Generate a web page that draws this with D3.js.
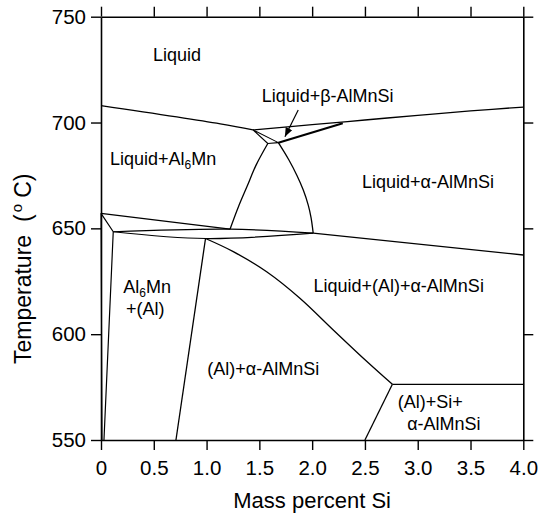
<!DOCTYPE html>
<html>
<head>
<meta charset="utf-8">
<script src="https://cdn.jsdelivr.net/npm/d3@7"></script>
<style>
  html, body { margin: 0; padding: 0; background: #fff; }
  svg { display: block; font-family: "Liberation Sans", Arial, Helvetica, sans-serif; }
</style>
</head>
<body>
<svg id="chart" width="538" height="518"></svg>
<script>
// Al-Mn-Si isopleth: temperature vs. mass percent Si
const xTicks = [0, 0.5, 1.0, 1.5, 2.0, 2.5, 3.0, 3.5, 4.0];
const yTicks = [550, 600, 650, 700, 750];

// phase boundaries, [mass % Si, temperature °C]
const liquidusAl6Mn   = [[0, 708.0], [1.13, 699.4], [1.44, 696.5]];
const liquidusBeta    = [[1.44, 696.5], [2.0, 699.0], [2.5, 701.2], [3.0, 703.4], [3.5, 705.5], [4.0, 707.3]];
const betaWedge       = [[1.44, 696.5], [1.58, 690.1], [1.68, 690.5], [1.44, 696.5]];
const betaAlpha       = [[1.68, 690.5], [2.29, 699.7]];
const alphaLeft       = [[1.58, 690.1], [1.47, 680], [1.385, 670], [1.30, 660], [1.222, 649.6]];
const alphaRight      = [[1.68, 690.5], [1.78, 682.3], [1.856, 675], [1.916, 668.1], [1.963, 661], [1.99, 655], [2.01, 647.7]];
const al6MnLower      = [[0, 657.1], [1.222, 649.6]];
const lensTop         = [[0.116, 648.4], [1.222, 649.6], [2.01, 647.7]];
const lensBottom      = [[0.116, 648.4], [0.99, 645.2], [2.01, 647.7]];
const liquidusAl      = [[2.01, 647.7], [4.0, 637.4]];
const alSolidusLeft   = [[0, 657.1], [0.01, 550]];
const al6MnSolvus     = [[0, 657.1], [0.116, 648.4], [0.028, 550]];
const alSolvus        = [[0.99, 645.2], [0.71, 550]];
const alphaSiBoundary = [[0.99, 645.2], [1.253, 639.0], [1.569, 629.5], [1.884, 617.0], [2.2, 602.0], [2.516, 587.2], [2.76, 576.3]];
const eutectic        = [[2.76, 576.3], [4.0, 576.3]];
const siLower         = [[2.76, 576.3], [2.5, 550]];

// phase-field labels: [x, T] of the text start, and its pieces
const fieldLabels = [
  { at: [0.492, 729.1], parts: [["Liquid"]] },
  { at: [1.522, 709.9], parts: [["Liquid+β-AlMnSi"]] },
  { at: [0.085, 679.9], parts: [["Liquid+Al"], ["6", "sub"], ["Mn"]] },
  { at: [2.472, 669.1], parts: [["Liquid+α-AlMnSi"]] },
  { at: [2.012, 620.1], parts: [["Liquid+(Al)+α-AlMnSi"]] },
  { at: [0.211, 619.6], parts: [["Al"], ["6", "sub"], ["Mn"]] },
  { at: [0.237, 609.2], parts: [["+(Al)"]] },
  { at: [1.007, 580.7], parts: [["(Al)+α-AlMnSi"]] },
  { at: [2.81, 565.0], parts: [["(Al)+Si+"]] },
  { at: [2.90, 554.7], parts: [["α-AlMnSi"]] }
];
const arrowFrom = [1.868, 705.9];
const arrowTo   = [1.742, 693.3];

const svg = d3.select("#chart");
const x = d3.scaleLinear().domain([0, 4]).range([101, 523.3]);
const y = d3.scaleLinear().domain([550, 750]).range([440, 16.7]);

const fmtX = d => d === 0 ? "0" : d3.format(".1f")(d);

// axes on all four sides, ticks pointing outward
const gBottom = svg.append("g").attr("transform", `translate(0,${y(550)})`)
  .call(d3.axisBottom(x).tickValues(xTicks).tickSize(10).tickSizeOuter(0).tickPadding(6).tickFormat(fmtX));
const gTop = svg.append("g").attr("transform", `translate(0,${y(750)})`)
  .call(d3.axisTop(x).tickValues(xTicks).tickSize(10).tickSizeOuter(0).tickFormat(""));
const gLeft = svg.append("g").attr("transform", `translate(${x(0)},0)`)
  .call(d3.axisLeft(y).tickValues(yTicks).tickSize(10).tickSizeOuter(0).tickPadding(5));
const gRight = svg.append("g").attr("transform", `translate(${x(4)},0)`)
  .call(d3.axisRight(y).tickValues(yTicks).tickSize(10).tickSizeOuter(0).tickFormat(""));

[gBottom, gTop, gLeft, gRight].forEach(g => {
  g.selectAll("path.domain").attr("stroke", "#000").attr("stroke-width", 1.6);
  g.selectAll(".tick line").attr("stroke", "#000").attr("stroke-width", 1.4);
  g.selectAll(".tick text").attr("fill", "#000").style("font-size", "20.5px")
    .style("font-family", "'Liberation Sans', Arial, sans-serif");
});
gBottom.selectAll(".tick text").attr("dy", "0.93em");

// boundary lines
const straight = d3.line().x(d => x(d[0])).y(d => y(d[1]));
const smooth = d3.line().x(d => x(d[0])).y(d => y(d[1])).curve(d3.curveCatmullRom.alpha(0.5));

const plot = svg.append("g").attr("fill", "none").attr("stroke", "#000").attr("stroke-linejoin", "round");
const draw = (data, gen, w) => plot.append("path").attr("d", gen(data)).attr("stroke-width", w);

draw(liquidusAl6Mn, smooth, 1.3);
draw(liquidusBeta, smooth, 1.3);
draw(betaWedge, straight, 1.1);
draw(betaAlpha, straight, 2.1);
draw(alphaLeft, smooth, 1.3);
draw(alphaRight, smooth, 1.3);
draw(al6MnLower, straight, 1.3);
draw(lensTop, smooth, 1.2);
draw(lensBottom, smooth, 1.2);
draw(liquidusAl, straight, 1.3);
draw(alSolidusLeft, straight, 1.0);
draw(al6MnSolvus, straight, 1.2);
draw(alSolvus, straight, 1.3);
draw(alphaSiBoundary, smooth, 1.3);
draw(eutectic, straight, 1.3);
draw(siLower, straight, 1.3);

// arrow pointing into the narrow β field
svg.append("defs").append("marker")
  .attr("id", "head").attr("viewBox", "0 0 10 10").attr("refX", 10).attr("refY", 5)
  .attr("markerWidth", 9).attr("markerHeight", 9).attr("markerUnits", "userSpaceOnUse")
  .attr("orient", "auto")
  .append("path").attr("d", "M0,1 L10,5 L0,9 Z").attr("fill", "#000");
svg.append("line")
  .attr("x1", x(arrowFrom[0])).attr("y1", y(arrowFrom[1]))
  .attr("x2", x(arrowTo[0])).attr("y2", y(arrowTo[1]))
  .attr("stroke", "#000").attr("stroke-width", 1.2).attr("marker-end", "url(#head)");

// field labels
const labels = svg.append("g").style("font-size", "18px").attr("fill", "#000");
fieldLabels.forEach(l => {
  const t = labels.append("text").attr("x", x(l.at[0])).attr("y", y(l.at[1]));
  let shift = 0;
  l.parts.forEach(([s, kind]) => {
    const sp = t.append("tspan").text(s);
    if (kind === "sub") { sp.attr("dy", 4).style("font-size", "12px"); shift = 4; }
    else if (shift) { sp.attr("dy", -shift); shift = 0; }
  });
});

// axis titles
svg.append("text")
  .attr("x", (x(0) + x(4)) / 2).attr("y", 508)
  .attr("text-anchor", "middle").style("font-size", "22px")
  .text("Mass percent Si");

const yTitle = svg.append("text")
  .attr("transform", "translate(31,364) rotate(-90)")
  .attr("text-anchor", "start").style("font-size", "23px")
  .attr("xml:space", "preserve");
yTitle.append("tspan").text("Temperature");
yTitle.append("tspan").text("(").attr("dx", 13);
yTitle.append("tspan").text("o").attr("dx", 2).attr("dy", -9).style("font-size", "15px");
yTitle.append("tspan").text("C)").attr("dx", 6).attr("dy", 9);
</script>
</body>
</html>
